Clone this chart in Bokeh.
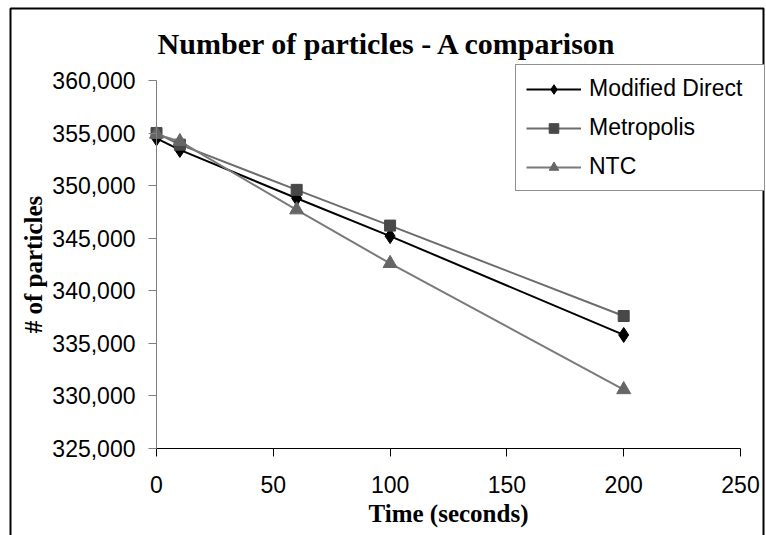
from bokeh.plotting import figure
from bokeh.models import (Range1d, FixedTicker, NumeralTickFormatter, Legend, LegendItem,
                          Label, BoxAnnotation)
from bokeh.embed import file_html
from bokeh.resources import INLINE

# ---- data ----
time_s = [0, 10, 60, 100, 200]
modified_direct = [354500, 353400, 348800, 345200, 335800]
metropolis = [355000, 353900, 349600, 346200, 337600]
ntc = [354900, 354200, 347700, 342600, 330600]
series_names = ["Modified Direct", "Metropolis", "NTC"]
x_ticks = [0, 50, 100, 150, 200, 250]
y_ticks = [325000, 330000, 335000, 340000, 345000, 350000, 355000, 360000]
x_lo, x_hi = 0, 250
y_lo, y_hi = 325000, 360000

W, H = 766, 535
# pixel box of the data area inside the page
FL, FT, FR, FB = 156, 80, 740, 448
kx = (FR - FL) / (x_hi - x_lo)
ky = (FB - FT) / (y_hi - y_lo)

p = figure(width=W, height=H, output_backend="svg", toolbar_location=None,
           x_range=Range1d(x_lo - FL / kx, x_hi + (W - FR) / kx),
           y_range=Range1d(y_lo - (H - FB) / ky, y_hi + FT / ky),
           min_border=0, min_border_left=0, min_border_right=0,
           min_border_top=0, min_border_bottom=0)
p.xgrid.visible = False
p.ygrid.visible = False
p.outline_line_color = None
p.background_fill_color = "white"
p.border_fill_color = "white"

# axes (pinned to the data box)
p.xaxis.fixed_location = y_lo
p.yaxis.fixed_location = x_lo
p.xaxis.bounds = (x_lo, x_hi)
p.yaxis.bounds = (y_lo, y_hi)
p.xaxis.ticker = FixedTicker(ticks=x_ticks)
p.yaxis.ticker = FixedTicker(ticks=y_ticks)
p.yaxis.formatter = NumeralTickFormatter(format="0,0")
for ax in (p.xaxis[0], p.yaxis[0]):
    ax.major_label_text_font = "Liberation Sans"
    ax.major_label_text_font_size = "23px"
    ax.major_label_text_color = "black"
    ax.major_tick_in = 0
    ax.major_tick_out = 8
    ax.minor_tick_in = 0
    ax.minor_tick_out = 0
    ax.axis_label_text_font = "Liberation Serif"
    ax.axis_label_text_font_style = "bold"
    ax.axis_label_text_font_size = "25px"
    ax.axis_label_text_color = "black"
p.xaxis.axis_line_color = "black"
p.xaxis.major_tick_line_color = "black"
p.yaxis.axis_line_color = "#808080"
p.yaxis.major_tick_line_color = "#808080"
p.yaxis.major_label_standoff = 13
p.xaxis.major_label_standoff = 19
p.xaxis.axis_label = "Time (seconds)"
p.xaxis.axis_label_standoff = 4
p.yaxis.axis_label = "# of particles"
p.yaxis.axis_label_standoff = 2

# series
l1 = p.line(time_s, modified_direct, line_color="black", line_width=2)
m1 = p.scatter(time_s, modified_direct, marker="diamond", size=15, fill_color="black", line_color="black")
l2 = p.line(time_s, metropolis, line_color="#6c6c6c", line_width=2)
m2 = p.scatter(time_s, metropolis, marker="square", size=11, fill_color="#484848", line_color="#484848")
l3 = p.line(time_s, ntc, line_color="#7a7a7a", line_width=2)
m3 = p.scatter(time_s, ntc, marker="triangle", size=14, fill_color="#666666", line_color="#666666")

legend = Legend(items=[LegendItem(label=series_names[0], renderers=[l1, m1]),
                       LegendItem(label=series_names[1], renderers=[l2, m2]),
                       LegendItem(label=series_names[2], renderers=[l3, m3])],
                location=(515, H - 191),
                label_text_font="Liberation Sans", label_text_font_size="23px",
                label_text_color="black",
                glyph_width=55, glyph_height=24, label_height=24, label_width=165,
                label_standoff=8, spacing=12, padding=10, margin=0,
                border_line_color="#222222", border_line_width=1,
                background_fill_color="white", background_fill_alpha=1)
p.add_layout(legend, "center")

# title
p.add_layout(Label(x=(157 + 618) / 2, y=H - 43, x_units="screen", y_units="screen",
                   text="Number of particles - A comparison", text_align="center",
                   text_baseline="alphabetic", text_font="Liberation Serif",
                   text_font_style="bold", text_font_size="30px", text_color="black"))

# outer chart border (bottom edge falls outside the page)
p.add_layout(BoxAnnotation(left=10, right=763, top=8, bottom=600,
                           left_units="canvas", right_units="canvas",
                           top_units="canvas", bottom_units="canvas",
                           fill_alpha=0, line_color="black", line_alpha=1,
                           line_width=2, level="overlay"))

open("out.html", "w").write(file_html(p, INLINE))
